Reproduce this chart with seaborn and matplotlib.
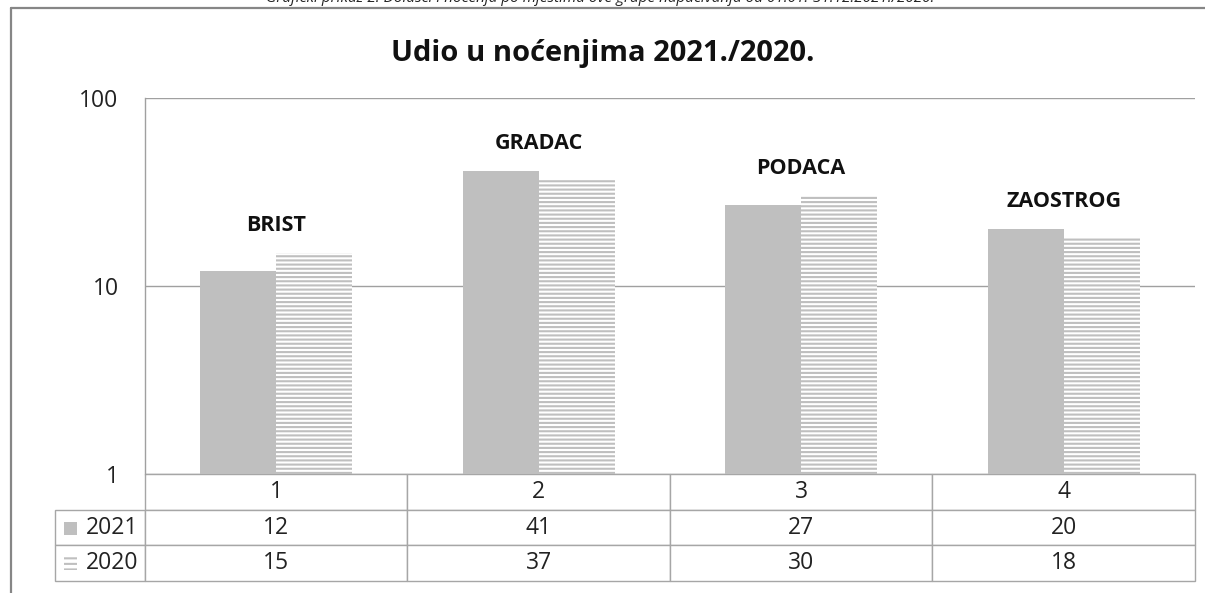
import pandas as pd
import seaborn as sns
import matplotlib.pyplot as plt
from matplotlib.patches import Rectangle
from matplotlib.lines import Line2D
from matplotlib.ticker import NullLocator

# Podaci s grafa
mjesta = ['BRIST', 'GRADAC', 'PODACA', 'ZAOSTROG']
stupci = ['1', '2', '3', '4']
godine = ['2021', '2020']
udio_2021 = [12, 41, 27, 20]
udio_2020 = [15, 37, 30, 18]

naslov = 'Udio u noćenjima 2021./2020.'
opis = ('Grafički prikaz 2. Dolasci i noćenja po mjestima ove grupe '
        'napučivanja od 01.01.-31.12.2021./2020.')

sns.set_theme(style='white')
plt.rcParams['font.family'] = ['Open Sans', 'DejaVu Sans']
plt.rcParams['hatch.linewidth'] = 1.5

df = pd.DataFrame({
    'stupac': stupci * 2,
    'godina': ['2021'] * 4 + ['2020'] * 4,
    'udio': udio_2021 + udio_2020,
})

W, H = 1205, 593
fig = plt.figure(figsize=(W / 100, H / 100), dpi=100)
ax = fig.add_axes([145 / W, (H - 474) / H, 1050 / W, 376 / H])

siva = '#bfbfbf'
sns.barplot(data=df, x='stupac', y='udio', hue='godina', hue_order=godine,
            palette={'2021': siva, '2020': siva}, saturation=1, width=0.58,
            legend=False, ax=ax)
ax.set_yscale('log', nonpositive='clip')

for bar in ax.containers[0]:
    bar.set_linewidth(0)
for bar in ax.containers[1]:
    bar.set_facecolor('white')
    bar.set_edgecolor(siva)
    bar.set_hatch('----')
    bar.set_linewidth(0)

ax.set_ylim(1, 100)
ax.set_xlim(-0.5, 3.5)
ax.set_yticks([1, 10, 100], labels=['1', '10', '100'])
ax.yaxis.set_minor_locator(NullLocator())
ax.tick_params(axis='y', length=0, pad=19, labelsize=16.5, colors='#222222')
ax.set_xticks([])
ax.set_xlabel('')
ax.set_ylabel('')
ax.set_axisbelow(True)
ax.grid(True, axis='y', which='major', color='#a0a0a0', lw=1)
for s in ['top', 'right', 'bottom']:
    ax.spines[s].set_visible(False)
ax.spines['left'].set_color('#a0a0a0')
ax.spines['left'].set_linewidth(1)

# nazivi mjesta iznad stupaca
for i, (ime, a, b) in enumerate(zip(mjesta, udio_2021, udio_2020)):
    ax.annotate(ime, (i, max(a, b)), xytext=(0, 20), textcoords='offset points',
                ha='center', va='center', fontsize=15.5, fontweight='bold',
                color='#111111')

# tablica podataka ispod grafa
def ax_x(px):
    return (px - 145) / 1050

def ax_y(py):
    return (474 - py) / 376

redovi = [[''] + stupci,
          [godine[0]] + [str(v) for v in udio_2021],
          [godine[1]] + [str(v) for v in udio_2020]]
tb = ax.table(cellText=redovi, cellLoc='center',
              colWidths=[90 / 1140] + [262.5 / 1140] * 4,
              bbox=[ax_x(55), ax_y(581), (1195 - 55) / 1050, (581 - 474) / 376])
tb.auto_set_font_size(False)
tb.set_fontsize(16.5)
for (r, c), cell in tb.get_celld().items():
    cell.set_edgecolor('#a6a6a6')
    cell.set_linewidth(1)
    cell.get_text().set_color('#222222')
    if c == 0:
        cell.get_text().set_horizontalalignment('right')
        cell._loc = 'right'
        cell.PAD = 0.07
tb[0, 0].set_visible(False)

# oznake legende u tablici
ax.add_patch(Rectangle((ax_x(64), ax_y(535)), 13 / 1050, 13 / 376,
                       transform=ax.transAxes, clip_on=False,
                       facecolor=siva, lw=0))
ax.add_patch(Rectangle((ax_x(64), ax_y(570)), 13 / 1050, 13 / 376,
                       transform=ax.transAxes, clip_on=False,
                       facecolor='white', edgecolor=siva, hatch='---', lw=0))

# naslov, okvir i odrezani opis
fig.text(0.5, (H - 53) / H, naslov, ha='center', va='center',
         fontsize=21, fontweight='bold', color='#111111')
fig.add_artist(Line2D([11 / W, 1], [(H - 8) / H] * 2, color='#868686', lw=1.6))
fig.add_artist(Line2D([11 / W] * 2, [0, (H - 8) / H], color='#868686', lw=1.6))
fig.text(600 / W, (H - 2) / H, opis, ha='center', va='baseline',
         fontsize=11, style='italic', color='#222222')

fig.savefig('out.png', dpi=100)
